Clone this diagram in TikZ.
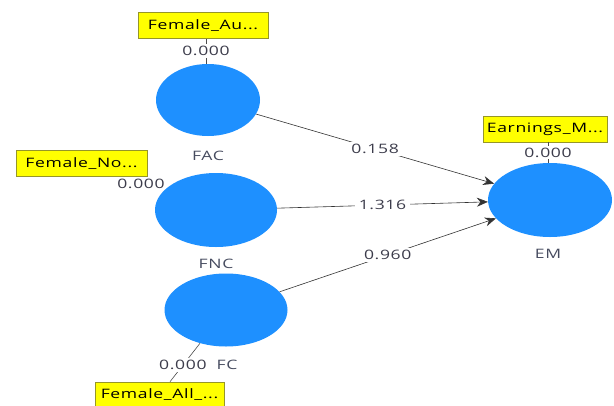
\documentclass[tikz,border=0pt]{standalone}
\usepackage{fontspec}
\setmainfont{Open Sans}
\newfontfamily\diagfont[FakeStretch=1.35,LetterSpace=5]{Open Sans}
\usetikzlibrary{shapes.geometric,arrows.meta}
\definecolor{lvblue}{RGB}{30,144,255}
\definecolor{indyellow}{RGB}{255,255,0}
\definecolor{indborder}{RGB}{150,150,40}
\definecolor{txtgray}{RGB}{60,60,75}
\definecolor{namegray}{RGB}{70,75,95}
\tikzset{
  latent/.style={ellipse, fill=lvblue, draw=none, minimum width=#1, minimum height=72pt, inner sep=0pt},
  ybox/.style={draw=indborder, fill=indyellow, line width=0.6pt, minimum height=26pt, inner xsep=2pt, font=\diagfont\fontsize{13}{15}\selectfont, text=black},
  lvname/.style={font=\diagfont\fontsize{13}{15}\selectfont, text=namegray},
  coef/.style={font=\diagfont\fontsize{13}{15}\selectfont, text=txtgray, fill=white, inner xsep=4pt, inner ysep=2pt},
  path/.style={draw=black!80, line width=0.6pt, -{Stealth[length=11pt,width=9pt]}},
  link/.style={draw=black!70, line width=0.6pt}
}
\begin{document}
\begin{tikzpicture}[x=1pt,y=-1pt]
\useasboundingbox[fill=white] (0,0) rectangle (614,405);
% latent variables
\node[latent=104pt] (FAC) at (208,100) {};
\node[latent=122pt, minimum height=74pt] (FNC) at (216,210) {};
\node[latent=123pt, minimum height=73pt] (FC) at (226,310) {};
\node[latent=124pt, minimum height=74pt] (EM) at (550,200) {};
% names
\node[lvname] (nFAC) at (208,156) {FAC};
\node[lvname] (nFNC) at (216,264) {FNC};
\node[lvname] (nFC) at (227,365) {FC};
\node[lvname] (nEM) at (548,254) {EM};
% indicators
\node[ybox, minimum width=130pt] (iFAC) at (203,25.5) {Female\_Au...};
\node[ybox, minimum width=131pt] (iFNC) at (81.5,163.5) {Female\_No...};
\node[ybox, minimum width=129pt] (iFC) at (159.5,395) {Female\_All\_...};
\node[ybox, minimum width=124pt] (iEM) at (545,129) {Earnings\_M...};
% indicator links
\draw[link] (iFAC.south -| 206,0) -- (FAC.north -| 206,0) node[coef, pos=0.5] (lFAC) {0.000};
\node[coef, fill=none] (lFNC) at (141,184) {0.000};
\draw[link] (iFC.north -| 170,0) -- (FC) node[coef, pos=0.43] (lFC) {0.000};
\draw[link] (iEM.south -| 548,0) -- (EM.north -| 548,0) node[coef, pos=0.5] (lEM) {0.000};
% structural paths
\draw[path] (FAC) -- (EM) node[coef, midway] (p1) {0.158};
\draw[path] (FNC) -- (EM) node[coef, midway] (p2) {1.316};
\draw[path] (FC) -- (EM) node[coef, midway] (p3) {0.960};
\end{tikzpicture}
\end{document}
